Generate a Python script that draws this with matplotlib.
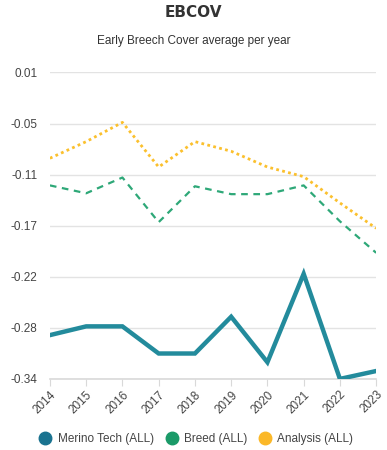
import matplotlib

matplotlib.use('Agg')
import matplotlib.pyplot as plt
import numpy as np
from matplotlib.lines import Line2D

years = [2014, 2015, 2016, 2017, 2018, 2019, 2020, 2021, 2022, 2023]
merino_tech = [-0.290, -0.280, -0.280, -0.311, -0.311, -0.269, -0.321, -0.220, -0.340, -0.331]
breed = [-0.119, -0.128, -0.110, -0.161, -0.120, -0.129, -0.129, -0.119, -0.160, -0.196]
analysis = [-0.088, -0.069, -0.047, -0.098, -0.069, -0.080, -0.098, -0.109, -0.139, -0.168]
y_ticks = np.linspace(-0.34, 0.01, 7)
y_labels = ["-0.34", "-0.28", "-0.22", "-0.17", "-0.11", "-0.05", "0.01"]
series_names = ["Merino Tech (ALL)", "Breed (ALL)", "Analysis (ALL)"]

plt.rcParams['font.family'] = ['Liberation Sans', 'DejaVu Sans']

fig = plt.figure(figsize=(3.87, 4.5), dpi=100)
ax = fig.add_axes([0.129, 0.158, 0.843, 0.681])

x = np.arange(len(years))
ax.plot(x, analysis, color='#fbc02d', lw=2, linestyle=(0, (1, 1.2)), zorder=3)
ax.plot(x, breed, color='#2ea878', lw=1.6, linestyle=(0, (3, 2.5)), zorder=3)
ax.plot(x, merino_tech, color='#238b9c', lw=3.2, solid_joinstyle='miter', zorder=4)

ax.set_xlim(0, len(years) - 1)
ax.set_ylim(-0.34, 0.01)
ax.set_yticks(y_ticks)
ax.set_yticklabels(y_labels)
ax.set_xticks(x)
ax.set_xticklabels([str(y) for y in years], rotation=45, ha='right',
                   rotation_mode='anchor')

ax.grid(axis='y', color='#e3e3e3', lw=1)
ax.set_axisbelow(True)
for s in ['top', 'right', 'left']:
    ax.spines[s].set_visible(False)
ax.spines['bottom'].set_color('#d9d9d9')
ax.spines['bottom'].set_linewidth(1.2)
ax.tick_params(axis='y', length=0, pad=9, labelsize=8.5, labelcolor='#444444')
ax.tick_params(axis='x', length=5, color='#d9d9d9', pad=2, labelsize=8.5,
               labelcolor='#444444')

fig.text(0.5, 0.972, "EBCOV", ha='center', va='center', fontsize=11,
         fontweight='heavy', color='#333333', family=['DejaVu Sans'])
fig.text(0.5, 0.909, "Early Breech Cover average per year", ha='center',
         va='center', fontsize=8.5, color='#333333')

handles = [Line2D([], [], marker='o', linestyle='', markersize=9, color=c)
           for c in ['#1a7390', '#1a9a68', '#fbb828']]
fig.legend(handles, series_names, loc='center', bbox_to_anchor=(0.5, 0.024),
           ncol=3, frameon=False, fontsize=8.5, handletextpad=0.05,
           columnspacing=0.5, labelcolor='#444444')

plt.savefig('out.png', dpi=100)
